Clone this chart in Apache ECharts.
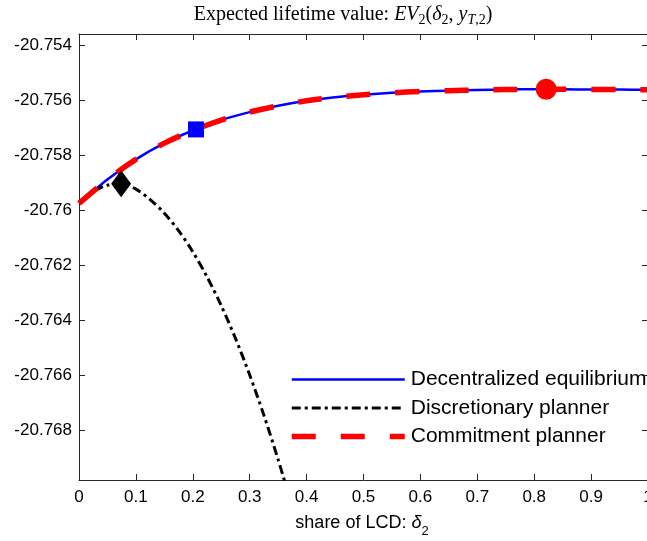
<!DOCTYPE html>
<html>
<head>
<meta charset="utf-8">
<script src="https://cdn.jsdelivr.net/npm/echarts@6/dist/echarts.min.js"></script>
<style>
  html, body { margin: 0; padding: 0; background: #ffffff; }
  #chart { width: 647px; height: 541px; }
</style>
</head>
<body>
<div id="chart"></div>
<script>
// Share of LCD (delta_2) sample points for the two coinciding curves
const deltaGrid = [0, 0.05, 0.1, 0.15, 0.2, 0.25, 0.3, 0.35, 0.4, 0.45, 0.5, 0.55, 0.6, 0.65, 0.7, 0.75, 0.8,
  0.85, 0.9, 0.95, 1.0];
const decentralized = [-20.75976, -20.75889, -20.75816, -20.75757, -20.75711, -20.75673, -20.75644, -20.75621,
  -20.75603, -20.75590, -20.75581, -20.75574, -20.75569, -20.75566, -20.75564, -20.75562, -20.75561, -20.75561,
  -20.75562, -20.75562, -20.75563];
const commitment = [-20.75976, -20.75889, -20.75816, -20.75757, -20.75711, -20.75673, -20.75644, -20.75621,
  -20.75603, -20.75590, -20.75581, -20.75574, -20.75569, -20.75566, -20.75564, -20.75562, -20.75561, -20.75561,
  -20.75562, -20.75562, -20.75563];

// Discretionary planner curve
const discretionaryDelta = [0, 0.025, 0.05, 0.075, 0.1, 0.125, 0.15, 0.175, 0.2, 0.225, 0.25, 0.275, 0.3,
  0.325, 0.35, 0.375];
const discretionary = [-20.75975, -20.75933, -20.75910, -20.75905, -20.75924, -20.75962, -20.76012, -20.76075,
  -20.76152, -20.76243, -20.76348, -20.76467, -20.76600, -20.76747, -20.76908, -20.77083];

// Optimal share for each regime [delta_2, EV_2]
const optimumDecentralized = [0.2056, -20.75707];
const optimumDiscretionary = [0.074, -20.75905];
const optimumCommitment = [0.821, -20.75561];

const seriesNames = ['Decentralized equilibrium', 'Discretionary planner', 'Commitment planner'];
const yTicks = [-20.768, -20.766, -20.764, -20.762, -20.76, -20.758, -20.756, -20.754];
const yRange = [-20.76982, -20.7536];
const xRange = [0, 1];

const zip = (xs, ys) => xs.map((x, i) => [x, ys[i]]);

const axisColor = '#262626';
const sans = 'Liberation Sans, Arial, Helvetica, sans-serif';
const serif = 'Liberation Serif, Times New Roman, serif';

const chart = echarts.init(document.getElementById('chart'), null, { renderer: 'canvas' });

const xCommon = {
  type: 'value', min: xRange[0], max: xRange[1], interval: 0.1,
  axisLine: { show: true, onZero: false, lineStyle: { color: axisColor, width: 1 } },
  axisTick: { show: true, inside: true, length: 6, lineStyle: { color: axisColor, width: 1 } },
  splitLine: { show: false }
};
const yCommon = {
  type: 'value', min: yRange[0], max: yRange[1],
  axisLine: { show: true, onZero: false, lineStyle: { color: axisColor, width: 1 } },
  axisTick: { show: true, inside: true, length: 6, customValues: yTicks, lineStyle: { color: axisColor, width: 1 } },
  splitLine: { show: false }
};

chart.setOption({
  animation: false,
  backgroundColor: '#ffffff',
  grid: { left: 79, top: 34, width: 569, height: 446, containLabel: false, outerBoundsMode: 'none' },
  xAxis: [
    Object.assign({}, xCommon, {
      position: 'bottom',
      axisLabel: { show: true, margin: 9, fontFamily: sans, fontSize: 17, color: '#000',
        formatter: v => String(+v.toFixed(1)) }
    }),
    Object.assign({}, xCommon, { position: 'top', axisLabel: { show: false } })
  ],
  yAxis: [
    Object.assign({}, yCommon, {
      position: 'left',
      axisLabel: { show: true, margin: 7, fontFamily: sans, fontSize: 17, color: '#000',
        customValues: yTicks, formatter: v => String(+v.toFixed(3)) }
    }),
    Object.assign({}, yCommon, { position: 'right', axisLabel: { show: false } })
  ],
  legend: {
    orient: 'vertical', left: 284, top: 364,
    itemWidth: 113, itemHeight: 14, itemGap: 7.5,
    selectedMode: false,
    textStyle: { fontFamily: sans, fontSize: 21, color: '#000', lineHeight: 21, padding: [0, 0, 0, 1] },
    lineStyle: { width: 'inherit', type: 'inherit' },
    itemStyle: { opacity: 0 },
    data: seriesNames
  },
  series: [
    {
      name: seriesNames[0], type: 'line', data: zip(deltaGrid, decentralized),
      symbol: 'none', smooth: 0.3, z: 2,
      lineStyle: { color: '#0000ff', width: 2.5 }, itemStyle: { color: '#0000ff' }
    },
    {
      name: seriesNames[1], type: 'line', data: zip(discretionaryDelta, discretionary),
      symbol: 'none', smooth: 0.3, z: 2,
      lineStyle: { color: '#000000', width: 3, type: [9, 4, 3, 4] }, itemStyle: { color: '#000000' }
    },
    {
      name: seriesNames[2], type: 'line', data: zip(deltaGrid, commitment),
      symbol: 'none', smooth: 0.3, z: 3,
      lineStyle: { color: '#ff0000', width: 5.5, type: [24, 25], cap: 'butt' }, itemStyle: { color: '#ff0000' }
    },
    {
      type: 'scatter', data: [optimumDecentralized], symbol: 'rect', symbolSize: 16, z: 4,
      itemStyle: { color: '#0000ff', opacity: 1 }, silent: true
    },
    {
      type: 'scatter', data: [optimumDiscretionary], symbol: 'diamond', symbolSize: [20, 27], z: 4,
      itemStyle: { color: '#000000', opacity: 1 }, silent: true
    },
    {
      type: 'scatter', data: [optimumCommitment], symbol: 'circle', symbolSize: 21, z: 4,
      itemStyle: { color: '#ff0000', opacity: 1 }, silent: true
    }
  ],
  graphic: [
    {
      type: 'text', x: 343, y: 15, z: 10,
      style: {
        text: '{n|Expected lifetime value: }{i|EV}{s|2}{n|(}{i|δ}{s|2}{n|, }{i|y}{si|T}{s|,2}{n|)}',
        align: 'center', verticalAlign: 'middle',
        rich: {
          n: { fontFamily: serif, fontSize: 20, lineHeight: 24, fill: '#000' },
          i: { fontFamily: serif, fontSize: 20, fontStyle: 'italic', lineHeight: 24, fill: '#000' },
          s: { fontFamily: serif, fontSize: 14, lineHeight: 14, verticalAlign: 'bottom', fill: '#000' },
          si: { fontFamily: serif, fontSize: 14, fontStyle: 'italic', lineHeight: 14, verticalAlign: 'bottom', fill: '#000' }
        }
      }
    },
    {
      type: 'text', x: 362, y: 523, z: 10,
      style: {
        text: '{n|share of LCD: }{g|δ}{s|2}',
        align: 'center', verticalAlign: 'middle',
        rich: {
          n: { fontFamily: sans, fontSize: 18, lineHeight: 30, fill: '#000' },
          g: { fontFamily: sans, fontSize: 18, fontStyle: 'italic', lineHeight: 30, fill: '#000' },
          s: { fontFamily: sans, fontSize: 13, lineHeight: 13, verticalAlign: 'bottom', fill: '#000' }
        }
      }
    }
  ]
});
</script>
</body>
</html>
